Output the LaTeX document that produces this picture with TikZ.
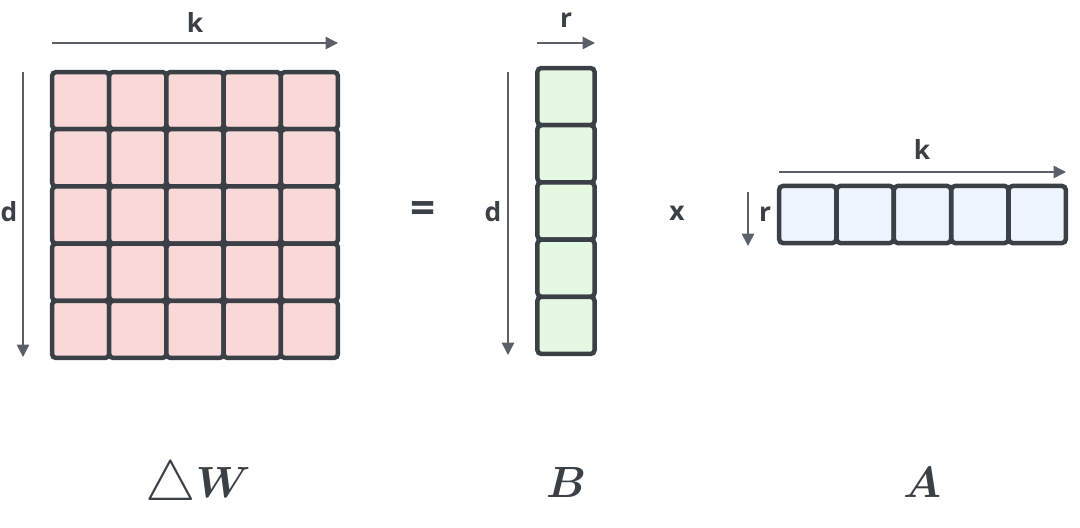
\documentclass[tikz,border=0pt]{standalone}
\usepackage{amsmath}
\usepackage{graphicx}
\usepackage{fontspec}
\setsansfont{Open Sans}
\usetikzlibrary{arrows.meta,positioning}
\definecolor{cellline}{HTML}{3B3F46}
\definecolor{dimgray}{HTML}{5A5F68}
\definecolor{wfill}{HTML}{F9D9D7}
\definecolor{bfill}{HTML}{E5F8E1}
\definecolor{afill}{HTML}{EDF4FE}
\tikzset{
  cell/.style={draw=cellline, line width=0.09cm, rounded corners=0.08cm, minimum size=1.144cm, inner sep=0pt, outer sep=0pt},
  dimarr/.style={-{Triangle[length=2.5mm, width=2.5mm]}, draw=dimgray, fill=dimgray, line width=0.03cm},
  dimlbl/.style={font=\sffamily\bfseries\fontsize{15}{15}\selectfont, text=cellline, inner sep=0pt},
  matlbl/.style={font=\fontsize{25}{25}\selectfont, text=cellline, inner sep=0pt, anchor=base},
}

\begin{document}
\begin{tikzpicture}[x=0.02cm, y=-0.02cm]
  \useasboundingbox (0,0) rectangle (1080,528);
  % delta W : d x k
  \foreach \i in {1,...,5}
    \foreach \j in {1,...,5}
      \node[cell, fill=wfill] (w-\j-\i) at ({52+57.2*(\i-0.5)},{72+57.2*(\j-0.5)}) {};
  % B : d x r
  \foreach \j in {1,...,5}
    \node[cell, fill=bfill] (b-\j) at (566,{68+57.2*(\j-0.5)}) {};
  % A : r x k
  \foreach \i in {1,...,5}
    \node[cell, fill=afill] (a-\i) at ({779+57.4*(\i-0.5)},214.5) {};

  % dimension arrows
  \coordinate (wk-from) at (52,43);   \coordinate (wk-to) at (338,43);
  \coordinate (wd-from) at (23,72);   \coordinate (wd-to) at (23,357);
  \coordinate (br-from) at (537,43);  \coordinate (br-to) at (595,43);
  \coordinate (bd-from) at (508,72);  \coordinate (bd-to) at (508,355);
  \coordinate (ak-from) at (779,172); \coordinate (ak-to) at (1066,172);
  \coordinate (ar-from) at (748,192); \coordinate (ar-to) at (748,246);
  \draw[dimarr] (wk-from) -- (wk-to);
  \draw[dimarr] (wd-from) -- (wd-to);
  \draw[dimarr] (br-from) -- (br-to);
  \draw[dimarr] (bd-from) -- (bd-to);
  \draw[dimarr] (ak-from) -- (ak-to);
  \draw[dimarr] (ar-from) -- (ar-to);

  \node[dimlbl] (wk) at (195,22) {k};
  \node[dimlbl] (wd) at (9,212) {d};
  \node[dimlbl] (br) at (566,20) {r};
  \node[dimlbl] (bd) at (493,212) {d};
  \node[dimlbl] (ak) at (922,149) {k};
  \node[dimlbl] (ar) at (765,214) {r};

  % operators
  \node[dimlbl, font=\sffamily\bfseries\fontsize{25}{25}\selectfont] (eq) at (423,213) {=};
  \node[dimlbl] (times) at (677,213) {x};

  % matrix names
  \node[matlbl] (dw) at (198,497) {\raisebox{-2pt}{\scalebox{1.3}{$\triangle$}}$\boldsymbol{W}$};
  \node[matlbl] (bname) at (566,497) {$\boldsymbol{B}$};
  \node[matlbl] (aname) at (922,497) {$\boldsymbol{A}$};
\end{tikzpicture}
\end{document}
